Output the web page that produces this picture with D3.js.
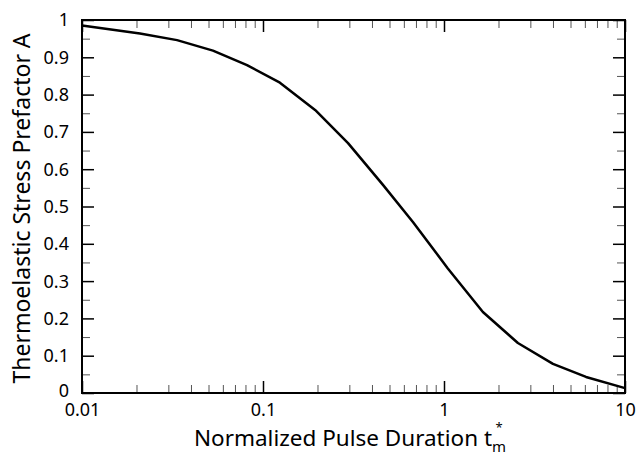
<!DOCTYPE html>
<html>
<head>
<meta charset="utf-8">
<script src="https://cdn.jsdelivr.net/npm/d3@7"></script>
<style>
  html, body { margin: 0; padding: 0; background: #fff; }
  svg { display: block; }
  text { font-family: "Noto Sans", "DejaVu Sans", sans-serif; fill: #000; }
</style>
</head>
<body>
<svg id="chart" width="637" height="458"></svg>
<script>
// Data
const pulseDuration = [0.01, 0.0209, 0.0335, 0.0529, 0.0816, 0.124, 0.194, 0.295, 0.46, 0.675, 1.05, 1.64, 2.56, 4.0, 6.09, 10];
const prefactorA   = [0.985, 0.964, 0.946, 0.918, 0.879, 0.832, 0.759, 0.670, 0.558, 0.458, 0.334, 0.217, 0.134, 0.078, 0.043, 0.013];

const xMajorTicks = [0.01, 0.1, 1, 10];
const xTickLabels = ["0.01", "0.1", "1", "10"];
const yMajorTicks = [0, 0.1, 0.2, 0.3, 0.4, 0.5, 0.6, 0.7, 0.8, 0.9, 1];
const yTickLabels = ["0", "0.1", "0.2", "0.3", "0.4", "0.5", "0.6", "0.7", "0.8", "0.9", "1"];
const yMinorTicks = [0.05, 0.15, 0.25, 0.35, 0.45, 0.55, 0.65, 0.75, 0.85, 0.95];
const xMinorTicks = [];
[0.01, 0.1, 1].forEach(d => { for (let k = 2; k <= 9; k++) xMinorTicks.push(+(d * k).toPrecision(3)); });

const svg = d3.select("#chart");
const m = { left: 82, right: 625, top: 20, bottom: 393 };

const x = d3.scaleLog().domain([0.01, 10]).range([m.left, m.right]);
const y = d3.scaleLinear().domain([0, 1]).range([m.bottom, m.top]);

function styleAxis(g, width, color) {
  g.select(".domain").remove();
  g.selectAll(".tick line").attr("stroke", color).attr("stroke-width", width);
}

// Minor ticks (all four sides, inward)
svg.append("g").attr("transform", `translate(0,${m.bottom})`)
  .call(d3.axisBottom(x).tickValues(xMinorTicks).tickSize(-8).tickFormat(""))
  .call(g => styleAxis(g, 1, "#555"));
svg.append("g").attr("transform", `translate(0,${m.top})`)
  .call(d3.axisTop(x).tickValues(xMinorTicks).tickSize(-8).tickFormat(""))
  .call(g => styleAxis(g, 1, "#555"));
svg.append("g").attr("transform", `translate(${m.left},0)`)
  .call(d3.axisLeft(y).tickValues(yMinorTicks).tickSize(-8).tickFormat(""))
  .call(g => styleAxis(g, 1, "#555"));
svg.append("g").attr("transform", `translate(${m.right},0)`)
  .call(d3.axisRight(y).tickValues(yMinorTicks).tickSize(-8).tickFormat(""))
  .call(g => styleAxis(g, 1, "#555"));

// Major ticks
const xb = svg.append("g").attr("transform", `translate(0,${m.bottom})`)
  .call(d3.axisBottom(x).tickValues(xMajorTicks).tickSize(-12)
    .tickFormat((d, i) => xTickLabels[i]))
  .call(g => styleAxis(g, 1.5, "#000"));
xb.selectAll(".tick text").attr("font-size", 18).attr("dy", 0).attr("y", 23)
  .style("font-family", "'Noto Sans', sans-serif").attr("fill", "#000");

svg.append("g").attr("transform", `translate(0,${m.top})`)
  .call(d3.axisTop(x).tickValues(xMajorTicks).tickSize(-12).tickFormat(""))
  .call(g => styleAxis(g, 1.5, "#000"));

const yl = svg.append("g").attr("transform", `translate(${m.left},0)`)
  .call(d3.axisLeft(y).tickValues(yMajorTicks).tickSize(-12)
    .tickFormat((d, i) => yTickLabels[i]))
  .call(g => styleAxis(g, 1.5, "#000"));
yl.selectAll(".tick text").attr("font-size", 18).attr("x", -13).attr("dy", "0.33em")
  .style("font-family", "'Noto Sans', sans-serif").attr("fill", "#000");
yl.selectAll(".tick text").filter((d) => d === 0).attr("dy", "0.2em");

svg.append("g").attr("transform", `translate(${m.right},0)`)
  .call(d3.axisRight(y).tickValues(yMajorTicks).tickSize(-12).tickFormat(""))
  .call(g => styleAxis(g, 1.5, "#000"));

// Frame
svg.append("rect")
  .attr("x", m.left).attr("y", m.top)
  .attr("width", m.right - m.left).attr("height", m.bottom - m.top)
  .attr("fill", "none").attr("stroke", "#000").attr("stroke-width", 2);

// Curve
const pts = pulseDuration.map((t, i) => [t, prefactorA[i]]);
svg.append("path")
  .datum(pts)
  .attr("fill", "none")
  .attr("stroke", "#000")
  .attr("stroke-width", 2.5)
  .attr("stroke-linejoin", "round")
  .attr("d", d3.line().x(d => x(d[0])).y(d => y(d[1])));

// Axis titles
const xt = svg.append("text")
  .attr("x", 350).attr("y", 446)
  .attr("text-anchor", "middle")
  .attr("font-size", 22.5);
xt.append("tspan").text("Normalized Pulse Duration t");
const mSpan = xt.append("tspan").attr("font-size", 15).attr("dy", 6).text("m");
const bb = xt.node().getBBox();
const mW = mSpan.node().getComputedTextLength();
svg.append("text")
  .attr("x", bb.x + bb.width - mW / 2).attr("y", 432)
  .attr("text-anchor", "middle")
  .attr("font-size", 13)
  .text("*");

svg.append("text")
  .attr("transform", `translate(30,${(m.top + m.bottom) / 2 + 2}) rotate(-90)`)
  .attr("text-anchor", "middle")
  .attr("font-size", 23)
  .text("Thermoelastic Stress Prefactor A");
</script>
</body>
</html>
